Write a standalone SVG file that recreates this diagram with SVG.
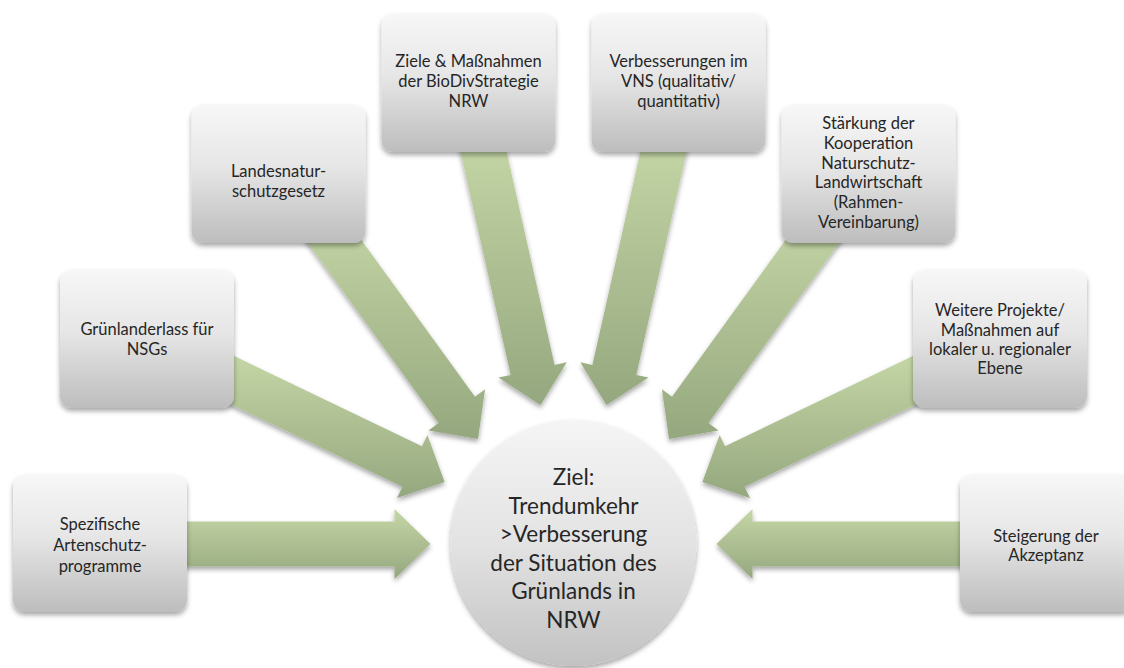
<svg xmlns="http://www.w3.org/2000/svg" width="1124" height="668" viewBox="0 0 1124 668">
<defs>
<linearGradient id="gBox" x1="0" y1="0" x2="0" y2="1">
<stop offset="0" stop-color="#f7f7f7"/>
<stop offset="0.45" stop-color="#e6e6e6"/>
<stop offset="1" stop-color="#bdbdbd"/>
</linearGradient>
<linearGradient id="gCircle" x1="0" y1="0" x2="0" y2="1">
<stop offset="0" stop-color="#f5f5f5"/>
<stop offset="0.5" stop-color="#e3e3e3"/>
<stop offset="1" stop-color="#c2c2c2"/>
</linearGradient>
<linearGradient id="gArrow" x1="0" y1="0" x2="0" y2="1">
<stop offset="0" stop-color="#c5d7a6"/>
<stop offset="1" stop-color="#95a77e"/>
</linearGradient>
<filter id="shadow" x="-20%" y="-20%" width="140%" height="140%">
<feDropShadow dx="0" dy="3" stdDeviation="2.5" flood-color="#000" flood-opacity="0.35"/>
</filter>
</defs>
<style>
.box{fill:url(#gBox);filter:url(#shadow);}
.arrow{fill:url(#gArrow);filter:url(#shadow);}
.circle{fill:url(#gCircle);filter:url(#shadow);}
.t{font-family:Lato,"Liberation Sans",sans-serif;font-size:16.5px;fill:#262626;text-anchor:middle;}
.tc{font-family:Lato,"Liberation Sans",sans-serif;font-size:22.5px;fill:#262626;text-anchor:middle;}
</style>
<rect width="1124" height="668" fill="#ffffff"/>
<g id="connectors">
<polygon class="arrow" points="182,521.5 394.5,521.5 394.5,509 430.5,544 394.5,579 394.5,566.5 182,566.5"/>
<polygon class="arrow" points="965,521.5 752.5,521.5 752.5,509 716.5,544 752.5,579 752.5,566.5 965,566.5"/>
<polygon class="arrow" points="209.4,394 402.5,486.8 397,498 444.6,482.1 427.4,435 422,446.2 228.9,353.4"/>
<polygon class="arrow" points="937.6,394 744.5,486.8 750,498 702.4,482.1 719.6,435 725,446.2 918.1,353.4"/>
<polygon class="arrow" points="302.3,235.2 438.6,423.1 428.5,430.5 478,439 485.1,389.3 475,396.7 338.7,208.8"/>
<polygon class="arrow" points="844.7,235.2 708.4,423.1 718.5,430.5 669,439 661.9,389.3 672,396.7 808.3,208.8"/>
<polygon class="arrow" points="458.9,145 510.7,374.9 498.5,377.6 540.5,405 566.7,362.2 554.6,365 502.8,135"/>
<polygon class="arrow" points="688.1,145 636.3,374.9 648.5,377.6 606.5,405 580.3,362.2 592.4,365 644.2,135"/>
</g>
<g id="n1"><rect class="box" x="13" y="475" width="174" height="137" rx="12"/>
<text class="t"><tspan x="100" y="530">Spezifische</tspan><tspan x="100" y="551">Artenschutz-</tspan><tspan x="100" y="572">programme</tspan></text></g>
<g id="n2"><rect class="box" x="60" y="270" width="174" height="138" rx="12"/>
<text class="t"><tspan x="147" y="335">Grünlanderlass für</tspan><tspan x="147" y="355">NSGs</tspan></text></g>
<g id="n3"><rect class="box" x="191.5" y="105" width="174" height="138" rx="12"/>
<text class="t"><tspan x="278.5" y="177">Landesnatur-</tspan><tspan x="278.5" y="197">schutzgesetz</tspan></text></g>
<g id="n4"><rect class="box" x="381.5" y="14" width="174" height="138" rx="12"/>
<text class="t"><tspan x="468.5" y="67">Ziele &amp; Maßnahmen</tspan><tspan x="468.5" y="87">der BioDivStrategie</tspan><tspan x="468.5" y="107">NRW</tspan></text></g>
<g id="n5"><rect class="box" x="591.5" y="14" width="174" height="138" rx="12"/>
<text class="t"><tspan x="678.5" y="67">Verbesserungen im</tspan><tspan x="678.5" y="87">VNS (qualitativ/</tspan><tspan x="678.5" y="107">quantitativ)</tspan></text></g>
<g id="n6"><rect class="box" x="781.5" y="105" width="174" height="138" rx="12"/>
<text class="t"><tspan x="868.5" y="129">Stärkung der</tspan><tspan x="868.5" y="149">Kooperation</tspan><tspan x="868.5" y="169">Naturschutz-</tspan><tspan x="868.5" y="188">Landwirtschaft</tspan><tspan x="868.5" y="208">(Rahmen-</tspan><tspan x="868.5" y="228">Vereinbarung)</tspan></text></g>
<g id="n7"><rect class="box" x="913" y="270" width="174" height="138" rx="12"/>
<text class="t"><tspan x="1000" y="316">Weitere Projekte/</tspan><tspan x="1000" y="336">Maßnahmen auf</tspan><tspan x="1000" y="355">lokaler u. regionaler</tspan><tspan x="1000" y="374">Ebene</tspan></text></g>
<g id="n8"><rect class="box" x="960" y="475" width="174" height="137" rx="12"/>
<text class="t"><tspan x="1046" y="542">Steigerung der</tspan><tspan x="1046" y="561">Akzeptanz</tspan></text></g>
<g id="center"><circle class="circle" cx="573.5" cy="543" r="123"/>
<text class="tc"><tspan x="573.5" y="485">Ziel:</tspan><tspan x="573.5" y="513.5">Trendumkehr</tspan><tspan x="573.5" y="542">&gt;Verbesserung</tspan><tspan x="573.5" y="570.5">der Situation des</tspan><tspan x="573.5" y="599">Grünlands in</tspan><tspan x="573.5" y="627.5">NRW</tspan></text></g>
</svg>
